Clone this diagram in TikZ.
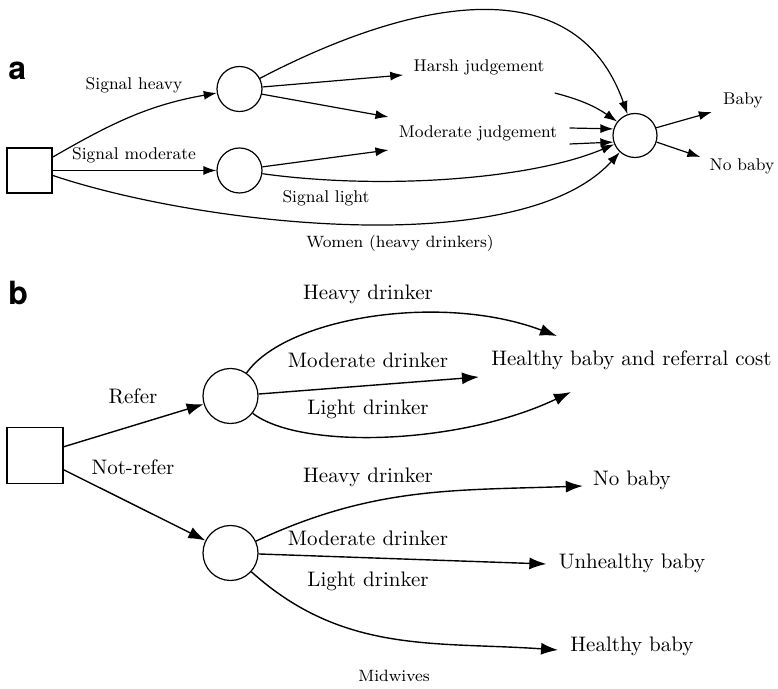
\documentclass[tikz,border=0pt]{standalone}
\usepackage{fontspec}
\newfontfamily\panelfont{TeX Gyre Heros}
\usetikzlibrary{arrows.meta, calc}

\begin{document}
\begin{tikzpicture}[
    x=0.5pt, y=-0.5pt,
    decision/.style={draw, rectangle, line width=0.6pt, inner sep=0pt},
    chance/.style={draw, circle, line width=0.6pt, inner sep=0pt},
    txta/.style={font=\fontsize{8.5}{10}\selectfont, inner sep=2pt},
    txtb/.style={font=\fontsize{10.5}{12.5}\selectfont, inner sep=2pt},
    capt/.style={font=\fontsize{8.2}{10}\selectfont, inner sep=0pt},
    panel/.style={font=\panelfont\bfseries\fontsize{16}{18}\selectfont, anchor=base west, inner sep=0pt},
    flowa/.style={-{Latex[length=6.5pt,width=4.5pt]}, line width=0.6pt},
    flowb/.style={-{Latex[length=8.5pt,width=6pt]}, line width=0.7pt}
]
\useasboundingbox (0,0) rectangle (778,689);

% (a) women
\node[panel] at (8,80) {a};
\node[decision, minimum size=22.5pt] (wd) at (29.5,170.5) {};
\node[chance, minimum size=22.5pt] (wh) at (239.5,89) {};
\node[chance, minimum size=22.5pt] (wm) at (239.5,170.5) {};
\node[chance, minimum size=22pt] (wo) at (635,135.5) {};
\node[txta] (harsh) at (479,67) {Harsh judgement};
\node[txta] (modj) at (478,133) {Moderate judgement};
\node[txta] (baby) at (743,100) {Baby};
\node[txta] (nobaby) at (742,166) {No baby};
\node[txta] at (134,85) {Signal heavy};
\node[txta] at (134,155) {Signal moderate};
\node[txta] at (326,198) {Signal light};
\node[capt] at (400,243) {Women (heavy drinkers)};

\draw[flowa] (wd) to[out=30,in=190] (wh);
\draw[flowa] (wd) -- (wm);
\draw[flowa] (wd.-12) .. controls (200,225) and (520,262) .. (wo);
\draw[flowa] (wh) .. controls (410,0) and (575,-35) .. (wo);
\draw[flowa] (wh.5) -- ($(harsh.west)+(-6,8)$);
\draw[flowa] (wh.-13) -- ($(modj.west)+(-6,-16)$);
\draw[flowa] (wm.9) -- ($(modj.west)+(-6,17)$);
\draw[flowa] (wm.-8) .. controls (380,190) and (530,180) .. (wo);
\draw[flowa] ($(harsh.east)+(6,26)$) to[bend left=10] (wo);
\draw[flowa] ($(modj.east)+(8,-5)$) -- (wo.163);
\draw[flowa] ($(modj.east)+(8,11)$) -- (wo.197);
\draw[flowa] (wo.20) -- ($(baby.west)+(-7,12)$);
\draw[flowa] (wo.-17) -- ($(nobaby.west)+(-5,-9)$);

% (b) midwives
\node[panel] at (8,305) {b};
\node[decision, minimum size=28pt] (md) at (35,455.5) {};
\node[chance, minimum size=27.5pt] (mr) at (230.5,396) {};
\node[chance, minimum size=27.5pt] (mn) at (230.5,553) {};
\node[txtb] (costly) at (631.5,360) {Healthy baby and referral cost};
\node[txtb] (lost) at (632,480) {No baby};
\node[txtb] (harmed) at (632,563) {Unhealthy baby};
\node[txtb] (fine) at (632,646) {Healthy baby};
\node[txtb] at (133,396) {Refer};
\node[txtb] at (133,467) {Not-refer};
\foreach \y/\t in {294/Heavy drinker, 360/Moderate drinker, 409/Light drinker,
                   477/Heavy drinker, 538/Moderate drinker, 581/Light drinker}
  \node[txtb] at (368,\y) {\t};
\node[capt] at (394,676) {Midwives};

\draw[flowb] (md) -- (mr);
\draw[flowb] (md) -- (mn);
\draw[flowb] (mr) .. controls (285,318) and (440,292) .. ($(costly.west)+(70,-24)$);
\draw[flowb] (mr.4) -- ($(costly.west)+(-8,17)$);
\draw[flowb] (mr) .. controls (300,450) and (460,445) .. ($(costly.west)+(84,32)$);
\draw[flowb] (mn) to[out=25,in=182] ($(lost.west)+(-6,6)$);
\draw[flowb] (mn) -- ($(harmed.west)+(-8,1)$);
\draw[flowb] (mn) to[out=-42,in=176] ($(fine.west)+(-8,4)$);
\end{tikzpicture}
\end{document}
